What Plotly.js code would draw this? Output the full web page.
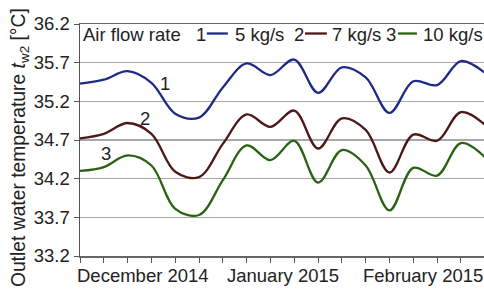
<!DOCTYPE html>
<html>
<head>
<meta charset="utf-8">
<script src="https://cdn.plot.ly/plotly-3.0.1.min.js"></script>
<style>html,body{margin:0;padding:0;background:#fff;}#chart{width:484px;height:289px;}</style>
</head>
<body>
<div id="chart"></div>
<script>
// Sample index along the Dec 2014 – Feb 2015 period
const samples = [0,1,2,3,4,5,6,7,8,9,10,11,12,13,14,15,16,17];
// Outlet water temperature t_w2 [°C]
const flow5  = [35.43,35.48,35.59,35.44,35.04,34.99,35.38,35.69,35.54,35.74,35.31,35.64,35.51,35.05,35.46,35.41,35.72,35.57];
const flow7  = [34.72,34.78,34.92,34.78,34.29,34.22,34.65,35.03,34.87,35.08,34.59,34.98,34.83,34.28,34.77,34.69,35.06,34.90];
const flow10 = [34.30,34.35,34.50,34.37,33.81,33.73,34.18,34.63,34.44,34.69,34.15,34.57,34.37,33.79,34.34,34.24,34.66,34.48];
const seriesNames = ['5 kg/s','7 kg/s','10 kg/s'];
const seriesIds = ['1','2','3'];
const monthLabels = ['December 2014','January 2015','February 2015'];
const monthPos = [2.65, 8.53, 14.4];
const yTicks = [33.2,33.7,34.2,34.7,35.2,35.7,36.2];
const yTitle = 'Outlet water temperature <i>t</i><sub>w2</sub> [°C]';

const colors = ['#1f2a88','#4e1818','#2a6214'];
const font = 'Liberation Sans, Arial, sans-serif';
const fs = 18.5;
const series = [flow5, flow7, flow10];

const traces = series.map((s,i)=>({
  x: samples, y: s, type:'scatter', mode:'lines', name: seriesNames[i],
  line:{color:colors[i], width:2.3, shape:'spline', smoothing:1},
  showlegend:false, hoverinfo:'skip'
}));

const annotations = [];
// y axis title (rotated)
annotations.push({
  x:-0.148, y:0.466, xref:'paper', yref:'paper', xanchor:'center', yanchor:'middle',
  textangle:-90, text:yTitle, showarrow:false, font:{family:font,size:19.3,color:'#222'}
});
// month labels
monthLabels.forEach((t,i)=>annotations.push({
  x: monthPos[i], y: 0, xref:'x', yref:'paper', yanchor:'top', yshift:-7,
  text:t, showarrow:false, font:{family:font,size:fs,color:'#222'}
}));
// curve ids next to curves
const idPos = [[3.57,35.43],[2.73,34.98],[1.09,34.53]];
seriesIds.forEach((t,i)=>annotations.push({
  x:idPos[i][0], y:idPos[i][1], xref:'x', yref:'y', text:t, showarrow:false,
  font:{family:font,size:fs,color:'#222'}
}));
// legend (inline)
const legY = 0.955;
const legText = [['Air flow rate',0.003],['1',0.282],[seriesNames[0],0.378],['2',0.525],[seriesNames[1],0.618],['3',0.752],[seriesNames[2],0.845]];
legText.forEach(([t,x])=>annotations.push({
  x:x, y:legY, xref:'paper', yref:'paper', xanchor:'left', yanchor:'middle',
  text:t, showarrow:false, font:{family:font,size:fs,color:'#222'}
}));
const legLines = [[0.314,0.366],[0.557,0.611],[0.787,0.834]];
const shapes = legLines.map((p,i)=>({
  type:'line', xref:'paper', yref:'paper', x0:p[0], x1:p[1], y0:legY+0.004, y1:legY+0.004,
  line:{color:colors[i], width:2.3}
}));

const layout = {
  width:484, height:289,
  margin:{l:80, r:0, t:24, b:33},
  paper_bgcolor:'#fff', plot_bgcolor:'#fff',
  showlegend:false,
  xaxis:{
    range:[0,16.97], tickvals:samples, ticktext:samples.map(()=>''),
    ticks:'outside', ticklen:5, tickcolor:'#555', tickwidth:1,
    showgrid:false, zeroline:false, showline:true, mirror:true,
    linecolor:'#666', linewidth:1.5
  },
  yaxis:{
    range:[33.2,36.2], tickvals:yTicks, ticktext:yTicks.map(v=>v.toFixed(1)),
    ticks:'outside', ticklen:5, tickcolor:'#555',
    showgrid:true, gridcolor:'#a8a8a8', gridwidth:1.5,
    zeroline:false, showline:true, linecolor:'#555', linewidth:1.5,
    tickfont:{family:font,size:fs,color:'#222'}
  },
  annotations: annotations,
  shapes: shapes
};

Plotly.newPlot('chart', traces, layout, {staticPlot:true, displayModeBar:false});
</script>
</body>
</html>
